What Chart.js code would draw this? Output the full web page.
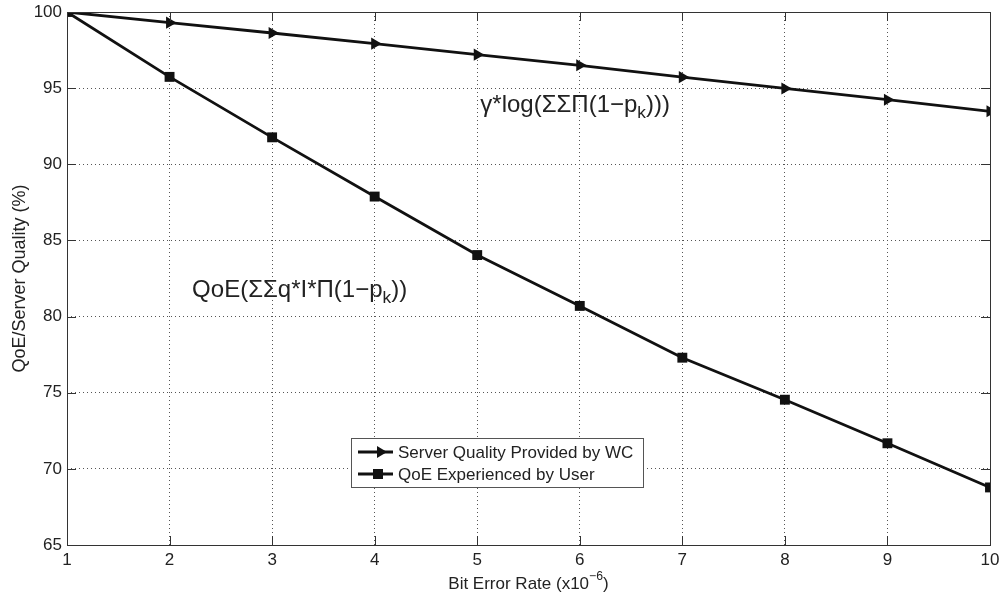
<!DOCTYPE html>
<html>
<head>
<meta charset="utf-8">
<script src="https://cdn.jsdelivr.net/npm/chart.js@4.4.1/dist/chart.umd.min.js"></script>
<style>
  html, body { margin: 0; padding: 0; background: #fff; }
  #wrap { width: 999px; height: 598px; }
</style>
</head>
<body>
<div id="wrap"><canvas id="chart" width="999" height="598"></canvas></div>
<script>
// ── Datos ────────────────────────────────────────────────────────────────────
var berValues     = [1, 2, 3, 4, 5, 6, 7, 8, 9, 10];
var serverQuality = [100, 99.3, 98.62, 97.92, 97.2, 96.5, 95.72, 94.98, 94.24, 93.48];
var qoeUser       = [100, 95.74, 91.77, 87.88, 84.04, 80.7, 77.3, 74.54, 71.68, 68.78];
var xTicks        = [1, 2, 3, 4, 5, 6, 7, 8, 9, 10];
var yTicks        = [65, 70, 75, 80, 85, 90, 95, 100];
var seriesNames   = ['Server Quality Provided by WC', 'QoE Experienced by User'];

var FONT = '"Liberation Sans", Arial, Helvetica, sans-serif';
var INK  = '#111';

function toPoints(vals) {
    return berValues.map(function (x, i) { return { x: x, y: vals[i] }; });
}

// texto con sub/superíndices: partes [{t, sub, sup}]
function drawRich(ctx, parts, x, y, size) {
    var cx = x;
    parts.forEach(function (p) {
        var s = (p.sub || p.sup) ? size * 0.72 : size;
        var dy = p.sub ? size * 0.32 : (p.sup ? -size * 0.42 : 0);
        ctx.font = s + 'px ' + FONT;
        ctx.fillText(p.t, cx, y + dy);
        cx += ctx.measureText(p.t).width;
    });
    return cx - x;
}
function richWidth(ctx, parts, size) {
    var w = 0;
    parts.forEach(function (p) {
        var s = (p.sub || p.sup) ? size * 0.72 : size;
        ctx.font = s + 'px ' + FONT;
        w += ctx.measureText(p.t).width;
    });
    return w;
}

// ── Marco, ticks internos, anotaciones, leyenda y título X ───────────────────
var decorPlugin = {
    id: 'decor',
    afterDraw: function (chart) {
        var ctx = chart.ctx, a = chart.chartArea;
        var xs = chart.scales.x, ys = chart.scales.y;
        ctx.save();

        // caja
        ctx.strokeStyle = '#333';
        ctx.lineWidth = 1;
        ctx.setLineDash([]);
        ctx.strokeRect(a.left + 0.5, a.top + 0.5, a.right - a.left, a.bottom - a.top);

        // ticks hacia adentro
        ctx.beginPath();
        xTicks.forEach(function (v) {
            var px = Math.round(xs.getPixelForValue(v)) + 0.5;
            ctx.moveTo(px, a.bottom); ctx.lineTo(px, a.bottom - 9);
            ctx.moveTo(px, a.top);    ctx.lineTo(px, a.top + 9);
        });
        yTicks.forEach(function (v) {
            var py = Math.round(ys.getPixelForValue(v)) + 0.5;
            ctx.moveTo(a.left, py);  ctx.lineTo(a.left + 9, py);
            ctx.moveTo(a.right, py); ctx.lineTo(a.right - 9, py);
        });
        ctx.stroke();

        // anotaciones
        ctx.fillStyle = '#222';
        ctx.textBaseline = 'middle';
        ctx.textAlign = 'left';
        drawRich(ctx, [{ t: 'γ*log(ΣΣΠ(1−p' }, { t: 'k', sub: true }, { t: ')))' }],
                 xs.getPixelForValue(5.03), ys.getPixelForValue(93.85), 24);
        drawRich(ctx, [{ t: 'QoE(ΣΣq*I*Π(1−p' }, { t: 'k', sub: true }, { t: '))' }],
                 xs.getPixelForValue(2.22), ys.getPixelForValue(81.7), 24);

        // leyenda
        var lx = 351, ly = 438, lw = 292, lh = 49;
        ctx.fillStyle = '#fff';
        ctx.fillRect(lx, ly, lw, lh);
        ctx.strokeStyle = '#555';
        ctx.lineWidth = 1;
        ctx.strokeRect(lx + 0.5, ly + 0.5, lw, lh);
        var rows = [ly + 14, ly + 36];
        chart.data.datasets.forEach(function (ds, i) {
            var ry = rows[i];
            ctx.strokeStyle = INK;
            ctx.lineWidth = 2.8;
            ctx.beginPath();
            ctx.moveTo(lx + 7, ry); ctx.lineTo(lx + 42, ry);
            ctx.stroke();
            ctx.fillStyle = INK;
            ctx.beginPath();
            if (i === 0) {
                ctx.moveTo(lx + 26, ry - 6); ctx.lineTo(lx + 26, ry + 6); ctx.lineTo(lx + 36, ry);
                ctx.closePath();
            } else {
                ctx.rect(lx + 22, ry - 5, 10, 10);
            }
            ctx.fill();
            ctx.fillStyle = '#222';
            ctx.font = '17px ' + FONT;
            ctx.textBaseline = 'middle';
            ctx.fillText(ds.label, lx + 47, ry + 1);
        });

        // título eje X
        var xt = [{ t: 'Bit Error Rate (x10' }, { t: '−6', sup: true }, { t: ')' }];
        var w = richWidth(ctx, xt, 17);
        ctx.fillStyle = '#222';
        ctx.textBaseline = 'middle';
        drawRich(ctx, xt, (a.left + a.right) / 2 - w / 2, 584, 17);

        ctx.restore();
    }
};

new Chart(document.getElementById('chart'), {
    type: 'line',
    data: {
        datasets: [{
            label: seriesNames[0],
            data: toPoints(serverQuality),
            borderColor: INK,
            backgroundColor: INK,
            borderWidth: 2.8,
            pointStyle: 'triangle',
            rotation: 90,
            pointRadius: 7,
            pointBackgroundColor: INK,
            pointBorderColor: INK,
            pointBorderWidth: 0,
            tension: 0
        }, {
            label: seriesNames[1],
            data: toPoints(qoeUser),
            borderColor: INK,
            backgroundColor: INK,
            borderWidth: 2.8,
            pointStyle: 'rect',
            pointRadius: 7,
            pointBackgroundColor: INK,
            pointBorderColor: INK,
            pointBorderWidth: 0,
            tension: 0
        }]
    },
    options: {
        responsive: false,
        animation: false,
        layout: { padding: { left: 0, right: 9, top: 12, bottom: 0 } },
        plugins: { legend: { display: false }, tooltip: { enabled: false } },
        scales: {
            x: {
                type: 'linear',
                min: 1, max: 10,
                afterBuildTicks: function (s) { s.ticks = xTicks.map(function (v) { return { value: v }; }); },
                afterFit: function (s) { s.height = 53; s.paddingLeft = 0; s.paddingRight = 0; },
                ticks: { color: '#222', font: { family: FONT, size: 17 }, padding: 5 },
                grid: { color: '#555', lineWidth: 1, drawTicks: false },
                border: { display: false, dash: [1, 3] }
            },
            y: {
                type: 'linear',
                min: 65, max: 100,
                afterBuildTicks: function (s) { s.ticks = yTicks.map(function (v) { return { value: v }; }); },
                afterFit: function (s) { s.width = 67; s.paddingTop = 0; s.paddingBottom = 0; },
                ticks: { color: '#222', font: { family: FONT, size: 17 }, padding: 5 },
                grid: { color: '#555', lineWidth: 1, drawTicks: false },
                border: { display: false, dash: [1, 3] },
                title: {
                    display: true,
                    text: 'QoE/Server Quality (%)',
                    color: '#222',
                    font: { family: FONT, size: 18 },
                    padding: { top: 9, bottom: 0 }
                }
            }
        }
    },
    plugins: [decorPlugin]
});
</script>
</body>
</html>
